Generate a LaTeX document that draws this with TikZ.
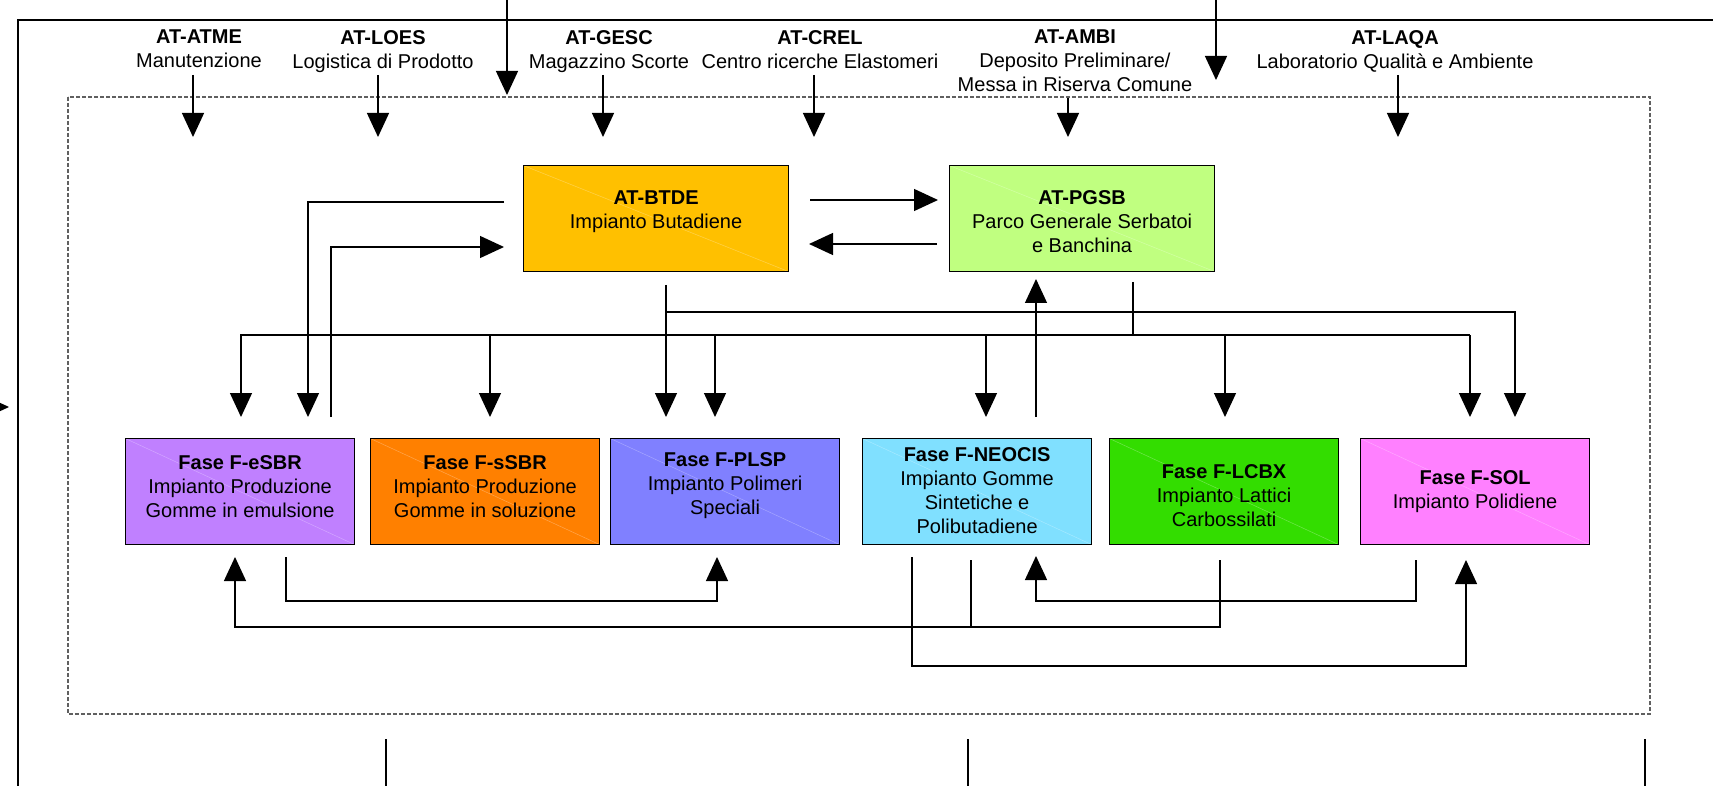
\documentclass[tikz,border=0pt]{standalone}
\usepackage{fontspec}
\setmainfont{Liberation Sans}
\usetikzlibrary{arrows.meta,calc}
\definecolor{cBTDE}{HTML}{FFC000}
\definecolor{cPGSB}{HTML}{C0FF80}
\definecolor{cESBR}{HTML}{C080FF}
\definecolor{cSSBR}{HTML}{FF8000}
\definecolor{cPLSP}{HTML}{8080FF}
\definecolor{cNEO}{HTML}{80E0FF}
\definecolor{cLCBX}{HTML}{33DD00}
\definecolor{cSOL}{HTML}{FF80FF}
\definecolor{cDash}{HTML}{606060}
\begin{document}
\begin{tikzpicture}[x=1pt,y=-1pt,
  every node/.style={font=\fontsize{20}{24}\selectfont, inner sep=0pt},
  unit/.style={draw=black, line width=1.2pt, anchor=north west,
    minimum height=106pt,
    path picture={\draw[white, opacity=.3, line width=.5pt]
      (path picture bounding box.north west) -- (path picture bounding box.south east);}},
  bigunit/.style={unit, minimum width=265pt},
  smallunit/.style={unit, minimum width=229pt},
  lbl/.style={align=center},
  hdr/.style={anchor=north, align=center},
  ln/.style={line width=1.3pt},
  arr/.style={ln, -{Triangle[width=22pt,length=24pt]}},
  frame/.style={line width=1.4pt},
  zone/.style={cDash, line width=1.3pt, dash pattern=on 4pt off 2pt},
]
\useasboundingbox (0,0) rectangle (1713,786);
\clip (0,0) rectangle (1713,786);

% outer frame and zone
\draw[frame] (1760,20) -- (18,20) -- (18,800);
\draw[zone] (68,97) rectangle (1650,714);

% header units
\node[hdr] (atme) at (199,30) {\textbf{AT-ATME}\\Manutenzione};
\node[hdr] (loes) at (383,30) {\textbf{AT-LOES}\\Logistica di Prodotto};
\node[hdr] (gesc) at (609,30) {\textbf{AT-GESC}\\Magazzino Scorte};
\node[hdr] (crel) at (820,30) {\textbf{AT-CREL}\\Centro ricerche Elastomeri};
\node[hdr] (ambi) at (1075,30) {\textbf{AT-AMBI}\\Deposito Preliminare/\\Messa in Riserva Comune};
\node[hdr] (laqa) at (1395,30) {\textbf{AT-LAQA}\\Laboratorio Qualità e Ambiente};

% plants
\node[bigunit, fill=cBTDE] (btde) at (523,165) {};
\node[lbl] (btdet) at ($(btde.center)+(0,-7)$) {\textbf{AT-BTDE}\\Impianto Butadiene};
\node[bigunit, fill=cPGSB] (pgsb) at (949,165) {};
\node[lbl] (pgsbt) at ($(pgsb.center)+(0,3)$) {\textbf{AT-PGSB}\\Parco Generale Serbatoi\\e Banchina};

\node[smallunit, fill=cESBR] (esbr) at (125,438) {};
\node[lbl] (esbrt) at ($(esbr.center)+(0,-5)$) {\textbf{Fase F-eSBR}\\Impianto Produzione\\Gomme in emulsione};
\node[smallunit, fill=cSSBR] (ssbr) at (370,438) {};
\node[lbl] (ssbrt) at ($(ssbr.center)+(0,-5)$) {\textbf{Fase F-sSBR}\\Impianto Produzione\\Gomme in soluzione};
\node[smallunit, fill=cPLSP] (plsp) at (610,438) {};
\node[lbl] (plspt) at ($(plsp.center)+(0,-6)$) {\textbf{Fase F-PLSP}\\Impianto Polimeri\\Speciali};
\node[smallunit, fill=cNEO] (neocis) at (862,438) {};
\node[lbl] (neocist) at ($(neocis.center)+(0,-1)$) {\textbf{Fase F-NEOCIS}\\Impianto Gomme\\Sintetiche e\\Polibutadiene};
\node[smallunit, fill=cLCBX] (lcbx) at (1109,438) {};
\node[lbl] (lcbxt) at ($(lcbx.center)+(0,4)$) {\textbf{Fase F-LCBX}\\Impianto Lattici\\Carbossilati};
\node[smallunit, fill=cSOL] (sol) at (1360,438) {};
\node[lbl] (solt) at (sol.center) {\textbf{Fase F-SOL}\\Impianto Polidiene};

% connector end points
\coordinate (inA) at (507,0);   \coordinate (inAt) at (507,95);
\coordinate (inB) at (1216,0);  \coordinate (inBt) at (1216,80);
\coordinate (inL) at (-20,407); \coordinate (inLt) at (9,407);

% header arrows
\draw[arr] (193,75) -- (193,137);
\draw[arr] (378,75) -- (378,137);
\draw[arr] (603,75) -- (603,137);
\draw[arr] (814,75) -- (814,137);
\draw[arr] (1068,98) -- (1068,137);
\draw[arr] (1398,75) -- (1398,137);
\draw[arr] (inA) -- (inAt);
\draw[arr] (inB) -- (inBt);
\draw[arr] (inL) -- (inLt);

% bottom stubs of outer frame
\draw[frame] (386,739) -- (386,800);
\draw[frame] (968,739) -- (968,800);
\draw[frame] (1645,739) -- (1645,800);

% BTDE <-> PGSB
\draw[arr] (810,200) -- (938,200);
\draw[arr] (937,244) -- (809,244);

% BTDE <-> eSBR
\draw[arr] (504,202) -- (308,202) -- (308,417);
\draw[arr] (331,417) -- (331,247) -- (504,247);

% BTDE down to PLSP and to SOL
\draw[arr] (666,285) -- (666,417);
\draw[arr] (666,312) -- (1515,312) -- (1515,417);

% PGSB distribution bus
\draw[ln] (1133,282) -- (1133,335);
\draw[arr] (1470,335) -- (241,335) -- (241,417);
\draw[arr] (490,335) -- (490,417);
\draw[arr] (715,335) -- (715,417);
\draw[arr] (986,335) -- (986,417);
\draw[arr] (1225,335) -- (1225,417);
\draw[arr] (1470,335) -- (1470,417);

% NEOCIS -> PGSB
\draw[arr] (1036,417) -- (1036,279);

% lower connections
\draw[arr] (286,557) -- (286,601) -- (717,601) -- (717,557);
\draw[ln] (971,560) -- (971,627);
\draw[arr] (1220,560) -- (1220,627) -- (235,627) -- (235,557);
\draw[arr] (912,557) -- (912,666) -- (1466,666) -- (1466,560);
\draw[arr] (1416,560) -- (1416,601) -- (1036,601) -- (1036,556);
\end{tikzpicture}
\end{document}
